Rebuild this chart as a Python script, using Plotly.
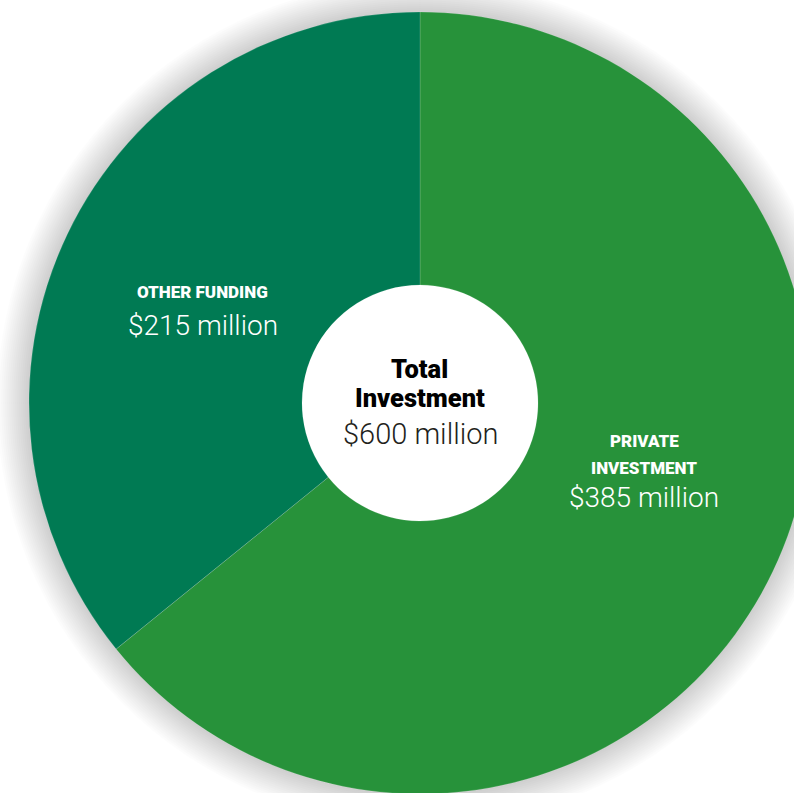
import plotly.graph_objects as go

# Funding breakdown
categories = ["PRIVATE<br>INVESTMENT", "OTHER FUNDING"]
values = [385, 215]          # $ million
colors = ["#27923A", "#007A53"]
total = sum(values)

# Canvas and donut geometry (pixels)
W, H = 820, 820
CX, CY = 420, 403
R = 391
R_HOLE = 118


def px(x):
    return x / W


def py(y):
    return 1 - y / H


def circle(cx, cy, r, fill):
    return dict(
        type="circle", xref="paper", yref="paper", layer="below",
        x0=px(cx - r), x1=px(cx + r), y0=py(cy + r), y1=py(cy - r),
        fillcolor=fill, line=dict(width=0),
    )


fig = go.Figure()

fig.add_trace(go.Pie(
    labels=categories,
    values=values,
    marker=dict(colors=colors, line=dict(color="rgba(255,255,255,0.25)", width=0.6)),
    hole=R_HOLE / R,
    sort=False,
    direction="clockwise",
    rotation=0,
    textinfo="none",
    hoverinfo="label+value",
    showlegend=False,
    domain=dict(x=[px(CX - R), px(CX + R)], y=[py(CY + R), py(CY - R)]),
))

# Soft glow around the donut, then a white disc behind the hole
shapes = []
for k in range(16):
    shapes.append(circle(CX, CY, R + 2 + 2 * k, "rgba(0,0,0,0.012)"))
shapes.append(circle(CX, CY, R_HOLE + 1, "white"))

HEAD = dict(family="Roboto, Lato, sans-serif", weight=900)
LIGHT = dict(family="Roboto, Lato, sans-serif", weight=300)

annotations = []


def label(text, x, y, size, color, base):
    f = dict(base, size=size, color=color)
    annotations.append(dict(
        text=text, x=px(x), y=py(y), xref="paper", yref="paper",
        xanchor="center", yanchor="middle", showarrow=False, font=f,
    ))


def money(v):
    return f"${v} million"


# Other funding
label("OTHER FUNDING", 202, 292, 17, "white", HEAD)
label(money(values[1]), 203, 325, 28, "white", LIGHT)

# Private investment
label("PRIVATE", 644, 441, 17, "white", HEAD)
label("INVESTMENT", 644, 468, 17, "white", HEAD)
label(money(values[0]), 644, 497, 28, "white", LIGHT)

# Centre total
label("Total", 419, 369, 25.5, "#000000", HEAD)
label("Investment", 420, 398, 25.5, "#000000", HEAD)
label(money(total), 420, 434, 29, "#231F20", LIGHT)

fig.update_layout(
    width=W, height=H,
    margin=dict(l=0, r=0, t=0, b=0),
    paper_bgcolor="white",
    plot_bgcolor="white",
    shapes=shapes,
    annotations=annotations,
)

fig.write_html(
    "out.html",
    config={"displayModeBar": False},
    post_script="document.documentElement.style.overflow='hidden';document.body.style.overflow='hidden';",
)
